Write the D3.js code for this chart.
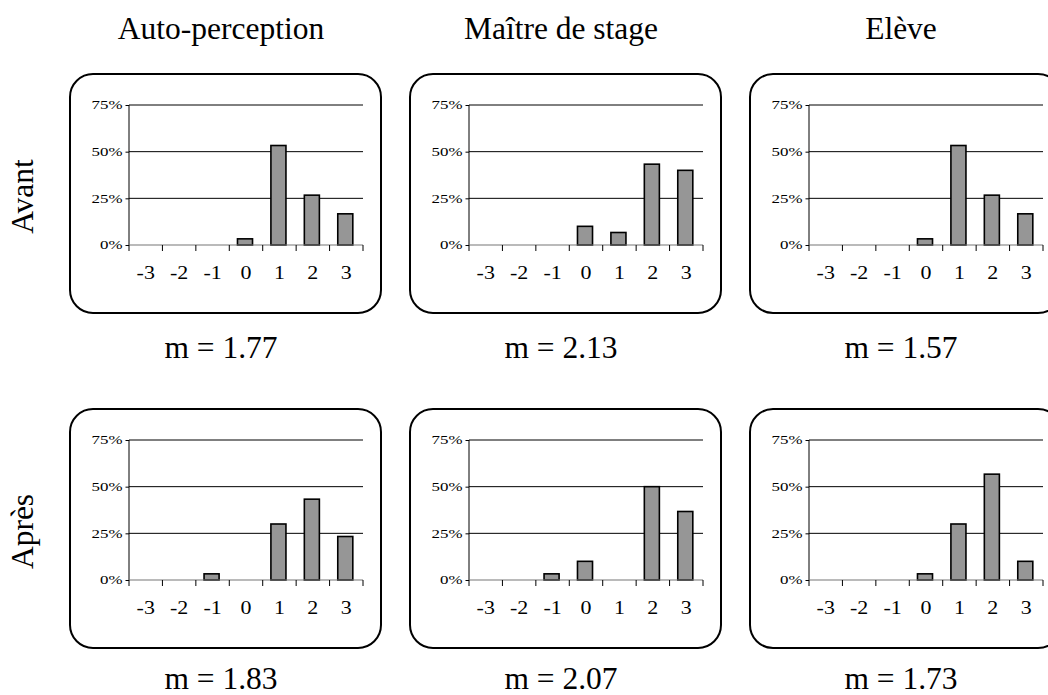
<!DOCTYPE html>
<html>
<head>
<meta charset="utf-8">
<script src="https://cdn.jsdelivr.net/npm/d3@7"></script>
<style>
  body { margin: 0; background: #fff; }
  svg { font-family: "Liberation Serif", "Times New Roman", serif; }
</style>
</head>
<body>
<svg></svg>
<script>
// scores on the -3..3 scale, share of answers in %
const categories = ['-3', '-2', '-1', '0', '1', '2', '3'];
const columns = ['Auto-perception', 'Maître de stage', 'Elève'];
const rows = ['Avant', 'Après'];
const yTicks = [0, 25, 50, 75];

const autoAvant   = [0, 0, 0, 3.3, 53.3, 26.7, 16.7];
const maitreAvant = [0, 0, 0, 10, 6.7, 43.3, 40];
const eleveAvant  = [0, 0, 0, 3.3, 53.3, 26.7, 16.7];
const autoApres   = [0, 0, 3.3, 0, 30, 43.3, 23.3];
const maitreApres = [0, 0, 3.3, 10, 0, 50, 36.7];
const eleveApres  = [0, 0, 0, 3.3, 30, 56.7, 10];

const meansAvant = ['1.77', '2.13', '1.57'];
const meansApres = ['1.83', '2.07', '1.73'];

const panels = [
  [autoAvant, maitreAvant, eleveAvant],
  [autoApres, maitreApres, eleveApres]
];
const means = [meansAvant, meansApres];

const width = 1048, height = 695;
const svg = d3.select('svg')
  .attr('width', width)
  .attr('height', height);

const boxX = [70, 410, 750];
const boxY = [74, 409];
const meanY = [358, 689];
const boxW = 311, boxH = 239;
const plot = { left: 59, top: 31, width: 234, height: 140 };

const x = d3.scaleBand()
  .domain(categories)
  .range([0, plot.width]);
const y = d3.scaleLinear()
  .domain([0, 75])
  .range([plot.height, 0]);

// column titles
svg.selectAll('text.col-title').data(columns)
  .enter().append('text')
    .attr('class', 'col-title')
    .attr('x', (d, i) => boxX[i] + 151)
    .attr('y', 38.5)
    .attr('text-anchor', 'middle')
    .attr('font-size', 31.5)
    .text(d => d);

// row titles
svg.selectAll('text.row-title').data(rows)
  .enter().append('text')
    .attr('class', 'row-title')
    .attr('transform', (d, i) => `translate(33,${boxY[i] + boxH / 2 + 3}) rotate(-90)`)
    .attr('text-anchor', 'middle')
    .attr('font-size', 31.5)
    .text(d => d);

rows.forEach((r, ri) => {
  columns.forEach((c, ci) => {
    const values = panels[ri][ci];
    const bx = boxX[ci], by = boxY[ri];

    svg.append('rect')
      .attr('x', bx).attr('y', by)
      .attr('width', boxW).attr('height', boxH)
      .attr('rx', 23).attr('ry', 23)
      .attr('fill', 'none')
      .attr('stroke', '#000')
      .attr('stroke-width', 2);

    const g = svg.append('g')
      .attr('transform', `translate(${bx + plot.left},${by + plot.top})`);

    // gridlines
    g.selectAll('line.grid').data(yTicks.slice(1))
      .enter().append('line')
        .attr('x1', 0).attr('x2', plot.width)
        .attr('y1', d => y(d)).attr('y2', d => y(d))
        .attr('stroke', '#000')
        .attr('stroke-width', 1);

    // y axis (labels a bit wider than the font, like the original export)
    const yAxisG = g.append('g')
      .call(d3.axisLeft(y).tickValues(yTicks).tickSize(3.5).tickFormat(d => d + '%'));
    yAxisG.select('.domain')
      .attr('stroke', '#000')
      .attr('d', `M0,${y(75)}V${y(0)}`);
    yAxisG.selectAll('.tick line').attr('stroke', '#000');
    yAxisG.selectAll('.tick text')
      .attr('x', -6.5 / 1.3)
      .attr('dy', '0.3em')
      .attr('transform', 'scale(1.3,1)')
      .attr('font-family', '"Liberation Serif", serif')
      .attr('font-size', 13)
      .attr('fill', '#000');
    yAxisG.attr('font-family', null);

    // bars
    const bw = x.bandwidth() * 0.45;
    g.selectAll('rect.bar').data(values.map((v, i) => ({ k: categories[i], v })).filter(d => d.v > 0))
      .enter().append('rect')
        .attr('class', 'bar')
        .attr('x', d => x(d.k) + (x.bandwidth() - bw) / 2 - 1)
        .attr('y', d => y(d.v))
        .attr('width', bw)
        .attr('height', d => y(0) - y(d.v))
        .attr('fill', '#969696')
        .attr('stroke', '#000')
        .attr('stroke-width', 1.6);

    // x axis: ticks on band boundaries, labels at band centres
    const xAxisG = g.append('g')
      .attr('transform', `translate(0,${plot.height})`);
    xAxisG.append('line')
      .attr('x1', 0).attr('x2', plot.width)
      .attr('stroke', '#777')
      .attr('stroke-width', 1.2);
    xAxisG.selectAll('line.tick').data(d3.range(categories.length + 1))
      .enter().append('line')
        .attr('x1', i => i * x.step()).attr('x2', i => i * x.step())
        .attr('y1', 0).attr('y2', 6)
        .attr('stroke', '#000');
    xAxisG.selectAll('text').data(categories)
      .enter().append('text')
        .attr('transform', d => `translate(${x(d) + x.bandwidth() / 2},33.5) scale(1.22,1)`)
        .attr('text-anchor', 'middle')
        .attr('font-size', 18)
        .text(d => d);

    // mean under the box
    svg.append('text')
      .attr('x', bx + 151)
      .attr('y', meanY[ri])
      .attr('text-anchor', 'middle')
      .attr('font-size', 31.5)
      .text(`m = ${means[ri][ci]}`);
  });
});
</script>
</body>
</html>
